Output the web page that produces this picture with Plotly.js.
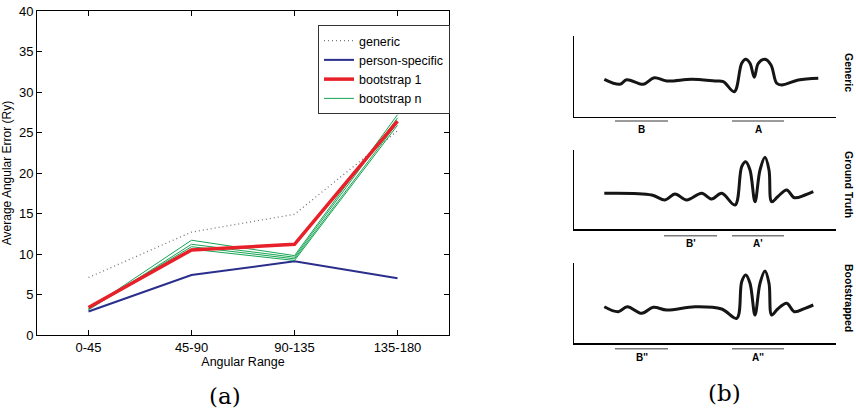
<!DOCTYPE html>
<html>
<head>
<meta charset="utf-8">
<script src="https://cdn.plot.ly/plotly-3.0.1.min.js"></script>
<style>html,body{margin:0;padding:0;background:#fff}#chart{width:856px;height:413px}</style>
</head>
<body>
<div id="chart"></div>
<script>
// ---------- panel (a) data ----------
const categories = ['0-45', '45-90', '90-135', '135-180'];
const generic = [7.1, 12.7, 14.9, 25.2];
const personSpecific = [2.9, 7.4, 9.1, 7.0];
const bootstrap1 = [3.4, 10.5, 11.2, 26.4];
const bootstrapN_a = [3.2, 11.7, 9.8, 27.2];
const bootstrapN_b = [3.1, 11.2, 9.6, 26.8];
const bootstrapN_c = [3.3, 10.9, 9.4, 26.2];
const bootstrapN_d = [3.2, 10.6, 9.2, 25.9];

// ---------- panel (b) data (schematic waveforms) ----------
const waveGenericX = [30.3, 46, 52.7, 69.3, 80.3, 92.7, 117.7, 141, 149.3, 160.3, 167.7, 171.7, 176, 180.3, 184.3, 191, 197, 202.7, 207.7, 224.3, 244.3];
const waveGenericY = [37.4, 32.4, 37, 32.4, 39, 35.7, 37.4, 35.7, 35, 25, 53.4, 57.4, 53.4, 39.4, 53.4, 57.4, 51.7, 33.4, 31.7, 36.7, 38.4];
const waveTruthX = [30.3, 77.7, 91, 101, 112.7, 127.7, 137.7, 147.7, 161, 167.7, 171.7, 176, 181, 186, 191, 195, 197.7, 203.7, 212.7, 220.3, 231, 239.3];
const waveTruthY = [35.7, 34, 29, 35, 29, 35.7, 30, 35.7, 24, 62.3, 67.3, 59, 27.3, 59, 71.7, 59, 27.3, 32.3, 39, 31.3, 34, 37.3];
const waveBootX = [30.3, 44.3, 53.3, 67.7, 79.3, 92.7, 121, 147.7, 162.7, 167.7, 171.7, 176, 181, 186, 191, 195, 197.7, 203.7, 212.7, 220.3, 231, 239.3];
const waveBootY = [36.3, 31.3, 36.3, 29.7, 35.7, 33, 36.3, 34, 24.7, 61.3, 68, 59.7, 28, 59.7, 72, 59.7, 28, 34, 39.7, 31.3, 34.7, 38];

const panelTitles = ['Generic', 'Ground Truth', 'Bootstrapped'];
const segLabels = [['B', 'A'], ["B'", "A'"], ["B''", "A''"]];
const segStart = [[41, 158], [90, 158], [41, 158]];
const segEnd = [[94, 210], [143, 210], [94, 210]];

// ---------- layout geometry ----------
const W = 856, H = 413;
const px = v => v / W;
const py = v => 1 - v / H;
const subBoxes = [[36, 116.7], [150, 229], [263, 343]];
const subLeft = 574, subRight = 836;
const segY = [121, 235.7, 348.7];
const segLabelY = [129.5, 244, 357.5];
const titleY = [72, 184, 298];

const traces = [];
const bnSets = [bootstrapN_a, bootstrapN_b, bootstrapN_c, bootstrapN_d];
traces.push({x: [0, 1, 2, 3], y: generic, name: 'generic', legendrank: 1, mode: 'lines', type: 'scatter',
  line: {color: '#777777', width: 1.3, dash: '1px,3px'}, xaxis: 'x', yaxis: 'y'});
traces.push({x: [0, 1, 2, 3], y: personSpecific, name: 'person-specific', legendrank: 2, mode: 'lines', type: 'scatter',
  line: {color: '#2a2e8c', width: 2}, xaxis: 'x', yaxis: 'y'});
bnSets.forEach((arr, i) => {
  traces.push({x: [0, 1, 2, 3], y: arr, name: 'bootstrap n', legendgroup: 'bn', legendrank: 4, showlegend: i === 0,
    mode: 'lines', type: 'scatter', line: {color: '#16a454', width: 1}, xaxis: 'x', yaxis: 'y'});
});
traces.push({x: [0, 1, 2, 3], y: bootstrap1, name: 'bootstrap 1', legendrank: 3, mode: 'lines', type: 'scatter',
  line: {color: '#e8202a', width: 3.5}, xaxis: 'x', yaxis: 'y'});

const waves = [[waveGenericX, waveGenericY], [waveTruthX, waveTruthY], [waveBootX, waveBootY]];
waves.forEach((w, i) => {
  traces.push({x: w[0], y: w[1], mode: 'lines', type: 'scatter', showlegend: false, hoverinfo: 'skip',
    line: {color: '#151515', width: 3, shape: 'spline', smoothing: 1},
    xaxis: 'x' + (i + 2), yaxis: 'y' + (i + 2)});
});

const layout = {
  width: W, height: H,
  margin: {l: 0, r: 0, t: 0, b: 0},
  paper_bgcolor: '#fff', plot_bgcolor: '#fff',
  font: {family: 'Liberation Sans, Arial, sans-serif', size: 12, color: '#000'},
  showlegend: true,
  legend: {x: px(318), y: py(25), xanchor: 'left', yanchor: 'top', bgcolor: '#fff',
    bordercolor: '#333', borderwidth: 1, font: {size: 12.5}, traceorder: 'normal'},
  xaxis: {domain: [px(37), px(449)], range: [-0.5, 3.5], tickvals: [0, 1, 2, 3], ticktext: categories,
    ticks: 'inside', ticklen: 5, tickcolor: '#000', showline: true, linecolor: '#000', linewidth: 1,
    mirror: 'ticks', showgrid: false, zeroline: false, tickfont: {size: 13},
    title: {text: 'Angular Range', font: {size: 12.5}, standoff: 0}},
  yaxis: {domain: [py(335), py(11)], range: [0, 40], dtick: 5,
    ticks: 'inside', ticklen: 5, tickcolor: '#000', showline: true, linecolor: '#000', linewidth: 1,
    mirror: 'ticks', showgrid: false, zeroline: false, tickfont: {size: 13},
    title: {text: 'Average Angular Error (Ry)', font: {size: 12}, standoff: 4}},
  shapes: [],
  annotations: [
    {text: '(a)', xref: 'paper', yref: 'paper', x: px(225), y: py(396), showarrow: false,
      font: {family: 'DejaVu Serif, serif', size: 23}, xanchor: 'center', yanchor: 'middle'},
    {text: '(b)', xref: 'paper', yref: 'paper', x: px(724), y: py(393), showarrow: false,
      font: {family: 'DejaVu Serif, serif', size: 23}, xanchor: 'center', yanchor: 'middle'}
  ]
};

subBoxes.forEach((b, i) => {
  const n = i + 2;
  layout['xaxis' + n] = {domain: [px(subLeft), px(subRight)], range: [0, subRight - subLeft],
    anchor: 'y' + n, showline: true, linecolor: '#000', linewidth: 1.5, showticklabels: false,
    ticks: '', showgrid: false, zeroline: false, fixedrange: true};
  layout['yaxis' + n] = {domain: [py(b[1]), py(b[0])], range: [0, b[1] - b[0]],
    anchor: 'x' + n, showline: true, linecolor: '#000', linewidth: 1.5, showticklabels: false,
    ticks: '', showgrid: false, zeroline: false, fixedrange: true};
  segLabels[i].forEach((lab, j) => {
    layout.shapes.push({type: 'line', xref: 'x' + n, yref: 'paper',
      x0: segStart[i][j], x1: segEnd[i][j], y0: py(segY[i]), y1: py(segY[i]),
      line: {color: '#7a7a7a', width: 1.5}});
    layout.annotations.push({text: '<b>' + lab + '</b>', xref: 'x' + n, yref: 'paper',
      x: (segStart[i][j] + segEnd[i][j]) / 2, y: py(segLabelY[i]), showarrow: false,
      font: {size: 10}, xanchor: 'center', yanchor: 'middle'});
  });
  layout.annotations.push({text: '<b>' + panelTitles[i] + '</b>', xref: 'paper', yref: 'paper',
    x: px(849), y: py(titleY[i]), showarrow: false, textangle: 90,
    font: {size: 10.5}, xanchor: 'center', yanchor: 'middle'});
});

Plotly.newPlot('chart', traces, layout, {staticPlot: true, displayModeBar: false});
</script>
</body>
</html>
